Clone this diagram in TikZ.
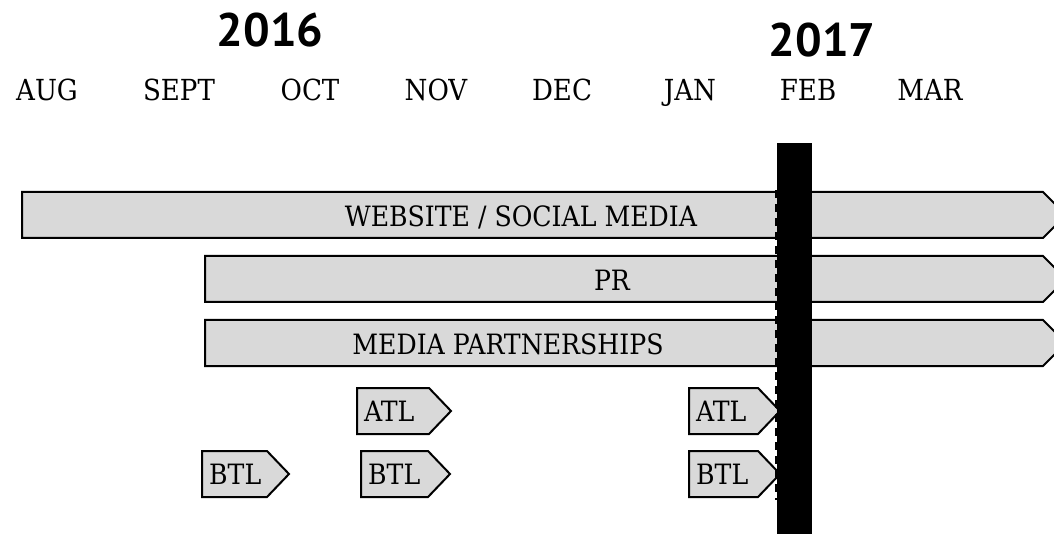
\documentclass[tikz,border=0pt]{standalone}
\usepackage{fontspec}
\setmainfont{DejaVu Serif Condensed}
\newfontfamily\yearfont{PT Sans}
\usetikzlibrary{positioning}

\begin{document}
\begin{tikzpicture}[x=1pt,y=-1pt,
  bar/.style={fill=gray!30,draw=black,line width=2pt},
  month/.style={font=\fontsize{29}{29}\selectfont,anchor=base},
  year/.style={font=\yearfont\bfseries\fontsize{47}{47}\selectfont},
  lbl/.style={font=\fontsize{28}{28}\selectfont,inner sep=0pt}]
\useasboundingbox (0,0) rectangle (1054,534);
\clip (0,0) rectangle (1054,534);
\node[year] (y2016) at (270,30) {2016};
\node[year] (y2017) at (822,40) {2017};
\foreach \m/\x in {AUG/47,SEPT/179,OCT/310,NOV/436,DEC/562,JAN/690,FEB/808,MAR/930} % edit here for the months
\node[month] (\m) at (\x,101) {\m};
\foreach \n/\x/\y in {web/22/192,pr/205/256,mp/205/320} % edit here for the long bars
\draw[bar] (\x,\y) -- (1043,\y) -- ++(23,23) -- (1043,\y+46) -- (\x,\y+46) -- cycle;
\node[lbl,anchor=base] (weblbl) at (521,227) {WEBSITE / SOCIAL MEDIA};
\node[lbl,anchor=base] (prlbl) at (612,291) {PR};
\node[lbl,anchor=base] (mplbl) at (508,354) {MEDIA PARTNERSHIPS};
\foreach \n/\t/\x/\w/\y in {atla/ATL/357/72/388,atlb/ATL/689/69/388,btla/BTL/202/65/451,btlb/BTL/361/67/451,btlc/BTL/689/69/451} % edit here for the short tags
{\draw[bar] (\x,\y) -- (\x+\w,\y) -- ++(22,23) -- (\x+\w,\y+46) -- (\x,\y+46) -- cycle;
\node[lbl,anchor=west] (\n) at (\x+7,\y+23) {\t};}
\draw[dash pattern=on 8pt off 6pt,line width=3pt] (776,190) -- (776,500);
\fill (777,143) rectangle (812,534); % the cut-off line
\end{tikzpicture}
\end{document}
